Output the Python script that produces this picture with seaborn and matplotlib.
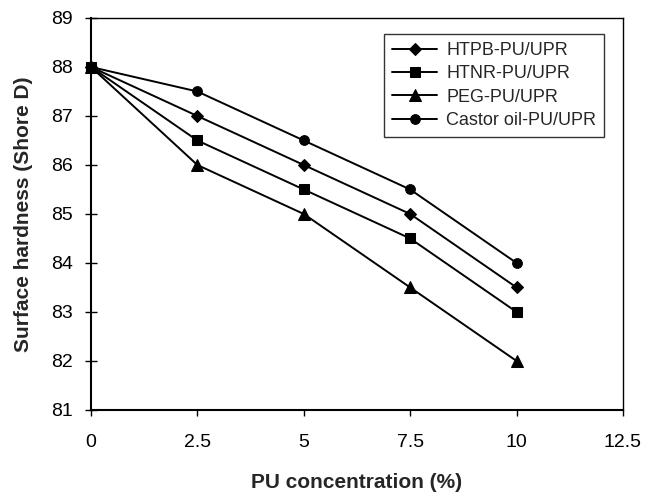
import matplotlib
matplotlib.use("Agg")
import matplotlib.pyplot as plt
import seaborn as sns
import pandas as pd

sns.set_theme(style="ticks")
plt.rcParams['font.family'] = ['Liberation Sans', 'DejaVu Sans']

conc = [0, 2.5, 5, 7.5, 10]
htpb = [88, 87, 86, 85, 83.5]
htnr = [88, 86.5, 85.5, 84.5, 83]
peg = [88, 86, 85, 83.5, 82]
castor = [88, 87.5, 86.5, 85.5, 84]
series_names = ["HTPB-PU/UPR", "HTNR-PU/UPR", "PEG-PU/UPR", "Castor oil-PU/UPR"]
xticks = [0, 2.5, 5, 7.5, 10, 12.5]
xtick_labels = ["0", "2.5", "5", "7.5", "10", "12.5"]

rows = []
for name, vals in zip(series_names, [htpb, htnr, peg, castor]):
    for x, y in zip(conc, vals):
        rows.append({"conc": x, "hard": y, "series": name})
df = pd.DataFrame(rows)

fig = plt.figure(figsize=(6.48, 4.93), dpi=100)
ax = fig.add_axes([0.1404, 0.1684, 0.8210, 0.7951])
markers = {"HTPB-PU/UPR": "D", "HTNR-PU/UPR": "s", "PEG-PU/UPR": "^", "Castor oil-PU/UPR": "o"}
sizes = {"HTPB-PU/UPR": 6.5, "HTNR-PU/UPR": 6.5, "PEG-PU/UPR": 8.5, "Castor oil-PU/UPR": 7}
for name in series_names:
    sub = df[df.series == name]
    sns.lineplot(data=sub, x="conc", y="hard", ax=ax, color="black", marker=markers[name],
                 markersize=sizes[name], linewidth=1.4, label=name, markeredgecolor="black",
                 clip_on=False)

ax.set_xlim(0, 12.5)
ax.set_ylim(81, 89)
ax.set_xticks(xticks)
ax.set_xticklabels(xtick_labels)
ax.set_yticks(range(81, 90))
for s in ax.spines.values():
    s.set_visible(True)
    s.set_color("black")
    s.set_linewidth(1.0)
ax.spines["left"].set_linewidth(1.5)
ax.spines["bottom"].set_linewidth(1.5)
ax.tick_params(axis="y", direction="inout", length=8, width=1, colors="black", labelsize=14, pad=9)
ax.tick_params(axis="x", direction="out", length=4, width=1, colors="black", labelsize=14, pad=13)
ax.set_xlabel("PU concentration (%)", fontsize=15, fontweight="bold", labelpad=16)
ax.set_ylabel("Surface hardness (Shore D)", fontsize=15, fontweight="bold", labelpad=13)

leg = ax.legend(loc="upper left", bbox_to_anchor=(0.5926, 0.931), bbox_transform=fig.transFigure,
                borderaxespad=0, frameon=True, fancybox=False, edgecolor="black", fontsize=13,
                handlelength=2.5, handletextpad=0.5, borderpad=0.45, labelspacing=0.35)
leg.get_frame().set_linewidth(1.0)
fig.savefig("out.png", dpi=100)
